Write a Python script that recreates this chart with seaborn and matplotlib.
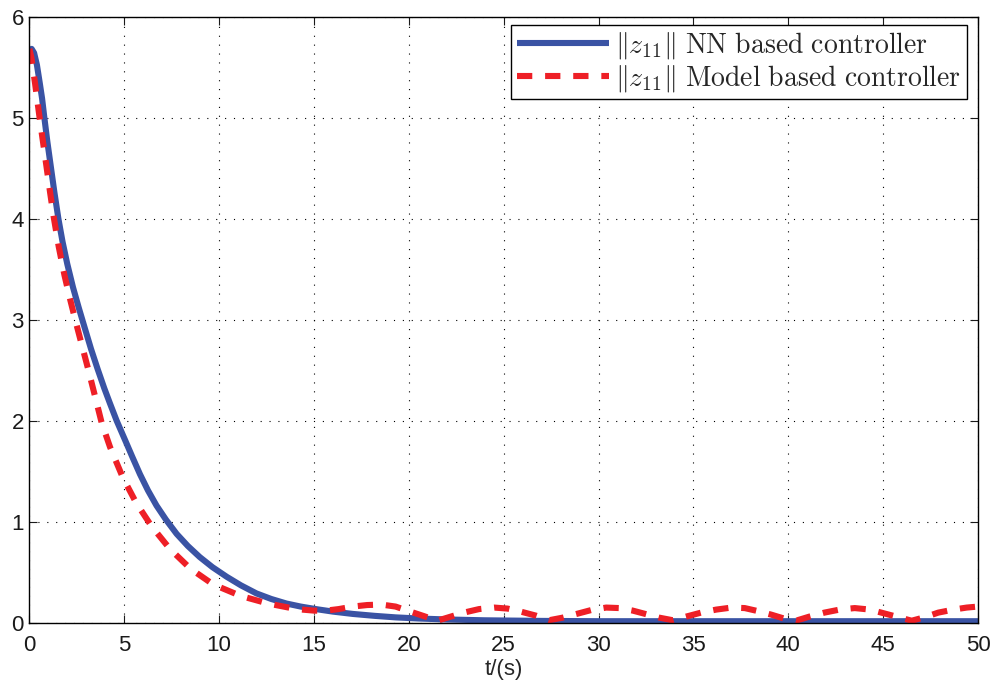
import matplotlib
matplotlib.use("Agg")
import matplotlib.pyplot as plt
import seaborn as sns
import pandas as pd

# ---- data ----
t_nn = [0, 0.12, 0.25, 0.4, 0.55, 0.67, 0.79, 0.95, 1.12, 1.32, 1.53, 1.75, 2.0, 2.3,
        2.6, 2.9, 3.25, 3.6, 3.95, 4.25, 4.6, 5.04, 5.43, 5.83, 6.25, 6.7, 7.2, 7.76,
        8.35, 8.98, 9.65, 10.4, 11.15, 11.97, 12.75, 13.55, 14.3, 15.1, 16.0, 17.05,
        18.2, 19.3, 20.5, 22, 24, 27, 30, 35, 40, 45, 50]
z_nn = [5.66, 5.68, 5.64, 5.52, 5.34, 5.19, 5.0, 4.76, 4.53, 4.26, 4.0, 3.77, 3.55, 3.32,
        3.12, 2.93, 2.71, 2.51, 2.32, 2.17, 2.0, 1.81, 1.64, 1.47, 1.31, 1.16, 1.02, 0.88,
        0.76, 0.65, 0.55, 0.455, 0.37, 0.29, 0.235, 0.19, 0.16, 0.135, 0.11, 0.087,
        0.068, 0.053, 0.042, 0.032, 0.024, 0.018, 0.015, 0.015, 0.015, 0.015, 0.015]

t_model = [0, 0.1, 0.3, 0.51, 0.68, 0.9, 1.1, 1.28, 1.55, 1.85, 2.15, 2.43, 2.75, 3.1,
           3.45, 3.81, 4.25, 4.92, 5.62, 6.44, 7.41, 8.49, 9.68, 11.14, 12.58, 14.07,
           15.0, 15.56, 16.3, 17.05, 17.8, 18.55, 19.3, 20.0, 20.8, 21.5, 22.2, 22.9,
           23.7, 24.5, 25.2, 25.9, 26.7, 27.4, 28.1, 28.8, 29.6, 30.4, 31.1, 31.8, 32.5,
           33.2, 33.9, 34.6, 35.4, 36.2, 37.0, 37.7, 38.4, 39.1, 39.8, 40.4, 41.1, 41.9,
           42.7, 43.5, 44.3, 45.0, 45.8, 46.5, 47.2, 47.9, 48.7, 49.4, 50]
z_model = [5.68, 5.6, 5.34, 5.04, 4.81, 4.52, 4.25, 4.02, 3.72, 3.44, 3.2, 2.99, 2.76, 2.51,
           2.25, 1.98, 1.74, 1.44, 1.19, 0.955, 0.73, 0.535, 0.38, 0.265, 0.19, 0.135,
           0.12, 0.118, 0.135, 0.16, 0.175, 0.18, 0.16, 0.115, 0.065, 0.02, 0.06, 0.10,
           0.135, 0.15, 0.14, 0.11, 0.07, 0.025, 0.05, 0.085, 0.125, 0.15, 0.145, 0.12,
           0.085, 0.05, 0.025, 0.06, 0.1, 0.13, 0.15, 0.145, 0.115, 0.08, 0.04, 0.02,
           0.06, 0.1, 0.13, 0.145, 0.13, 0.095, 0.055, 0.02, 0.055, 0.10, 0.13, 0.15, 0.16]

x_ticks = [0, 5, 10, 15, 20, 25, 30, 35, 40, 45, 50]
y_ticks = [0, 1, 2, 3, 4, 5, 6]
labels = [r"$\|z_{11}\|\ \mathrm{NN\ based\ controller}$",
          r"$\|z_{11}\|\ \mathrm{Model\ based\ controller}$"]
x_label = "t/(s)"

df_nn = pd.DataFrame({"t": t_nn, "z": z_nn})
df_model = pd.DataFrame({"t": t_model, "z": z_model})

sns.set_style("ticks")
plt.rcParams["font.family"] = ["Liberation Sans", "DejaVu Sans"]
plt.rcParams["mathtext.fontset"] = "cm"

fig = plt.figure(figsize=(9.95, 6.9), dpi=100)
ax = fig.add_axes([0.0295, 0.0975, 0.9535, 0.8785])

sns.lineplot(data=df_nn, x="t", y="z", ax=ax, color="#3a53a4", lw=4.4,
             label=labels[0], solid_capstyle="butt", solid_joinstyle="round",
             sort=False, estimator=None)
sns.lineplot(data=df_model, x="t", y="z", ax=ax, color="#ee1f26", lw=4.4,
             linestyle=(0, (2.5, 2.1)), dash_capstyle="butt", dash_joinstyle="round",
             label=labels[1], sort=False, estimator=None)

ax.set_xlim(0, 50)
ax.set_ylim(0, 6)
ax.set_xticks(x_ticks)
ax.set_yticks(y_ticks)
ax.set_xlabel(x_label, fontsize=16, labelpad=2)
ax.set_ylabel("")
ax.tick_params(direction="in", length=6, width=0.8, top=True, right=True,
               labelsize=16, colors="#1a1a1a")
ax.tick_params(axis="x", pad=9)
ax.tick_params(axis="y", pad=4)
ax.grid(True, color="black", linestyle=(0, (1, 7)), linewidth=0.8)
for s in ax.spines.values():
    s.set_linewidth(1.0)
    s.set_color("black")
    s.set_visible(True)

leg = ax.legend(loc="upper right", bbox_to_anchor=(0.9884, 0.9863), borderaxespad=0,
                fontsize=20, frameon=True, fancybox=False, handlelength=3.3,
                handletextpad=0.25, labelspacing=0.05, borderpad=0.2)
leg.get_frame().set_edgecolor("black")
leg.get_frame().set_linewidth(1.0)
leg.get_frame().set_alpha(1)

fig.savefig("out.png", dpi=100)
